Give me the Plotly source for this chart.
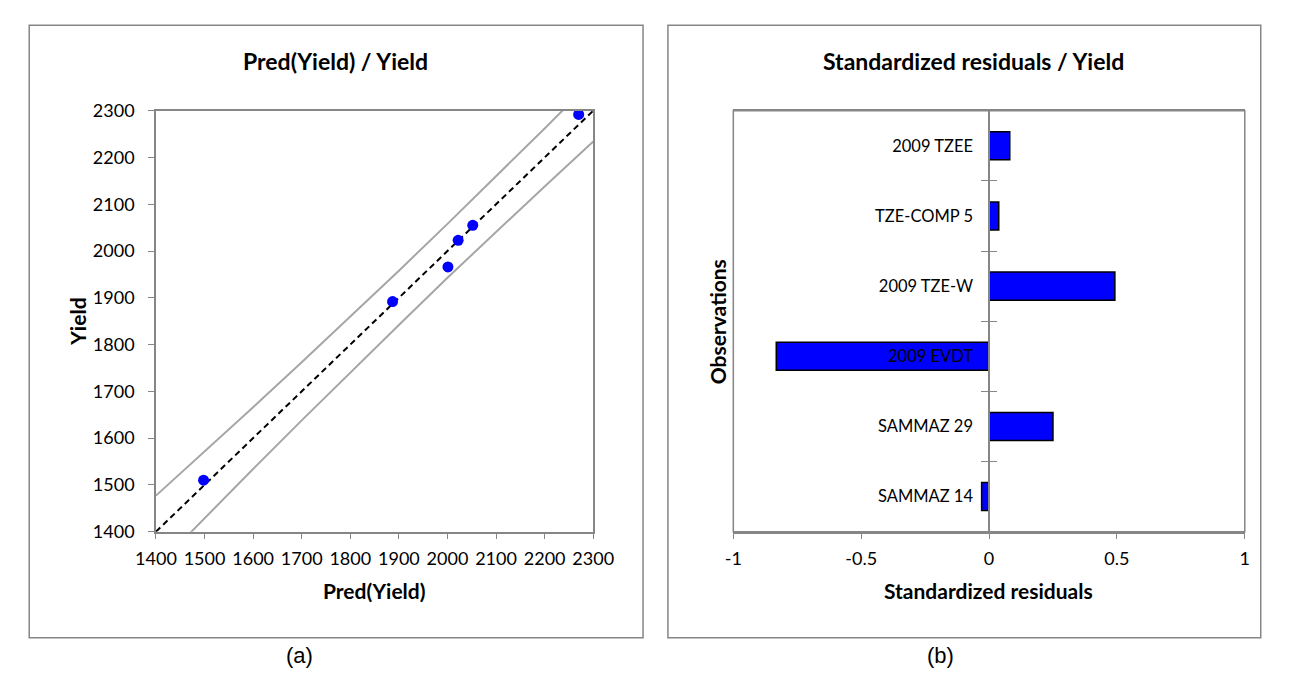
import plotly.graph_objects as go

# ---------------- data ----------------
pred_yield = [1498, 1887, 2001, 2022, 2052, 2270]
yield_obs = [1510, 1892, 1966, 2023, 2055, 2292]

band_x = [1400, 1500, 1600, 1700, 1800, 1900, 2000, 2100, 2200, 2300]
band_upper = [1477, 1571, 1666, 1762, 1859, 1958, 2058, 2159, 2262, 2366]
band_lower = [1323, 1429, 1534, 1638, 1741, 1842, 1943, 2041, 2138, 2234]
diag = [1400, 2300]

left_ticks = [1400, 1500, 1600, 1700, 1800, 1900, 2000, 2100, 2200, 2300]

observations = ["SAMMAZ 14", "SAMMAZ 29", "2009 EVDT", "2009 TZE-W", "TZE-COMP 5", "2009 TZEE"]
std_resid = [-0.029, 0.250, -0.832, 0.492, 0.038, 0.081]
boundary_ticks = [0.5, 1.5, 2.5, 3.5, 4.5]

right_tickvals = [-1, -0.5, 0, 0.5, 1]
right_ticktext = ["-1", "-0.5", "0", "0.5", "1"]

# ---------------- layout helpers ----------------
W, H = 1289, 681
def px(x):
    return x / W
def py(y):
    return 1 - y / H

AX = "#868686"
FONT = "Lato"
tickfont = dict(family=FONT, size=18, color="black")
catfont = dict(family=FONT, size=16.5, color="black")

fig = go.Figure()

# Left panel
fig.add_trace(go.Scatter(x=band_x, y=band_upper, mode="lines",
                         line=dict(color="#A6A6A6", width=2), showlegend=False,
                         xaxis="x", yaxis="y", hoverinfo="skip"))
fig.add_trace(go.Scatter(x=band_x, y=band_lower, mode="lines",
                         line=dict(color="#A6A6A6", width=2), showlegend=False,
                         xaxis="x", yaxis="y", hoverinfo="skip"))
fig.add_trace(go.Scatter(x=diag, y=diag, mode="lines",
                         line=dict(color="black", width=2, dash="6px,4px"), showlegend=False,
                         xaxis="x", yaxis="y", hoverinfo="skip"))
fig.add_trace(go.Scatter(x=pred_yield, y=yield_obs, mode="markers",
                         marker=dict(color="#0000FF", size=11), showlegend=False,
                         xaxis="x", yaxis="y", cliponaxis=False))

# Right panel
fig.add_trace(go.Bar(x=std_resid, y=observations, orientation="h",
                     marker=dict(color="#0000FF", line=dict(color="black", width=1.5)),
                     width=0.4, showlegend=False, xaxis="x2", yaxis="y2"))
fig.add_trace(go.Scatter(x=[], y=[], showlegend=False, xaxis="x2", yaxis="y3"))

dom_y = [py(537), py(102)]
left_dom = [px(139.5), px(591.5)]
right_dom = [px(736.3), px(1265)]
zero_pos = (right_dom[0] + right_dom[1]) / 2

common = dict(showgrid=False, zeroline=False, ticks="outside", ticklen=6,
              tickcolor=AX, tickwidth=1.3, showline=True, linecolor=AX, linewidth=1.5,
              tickfont=tickfont)

fig.update_layout(
    width=W, height=H, autosize=False,
    margin=dict(l=0, r=0, t=0, b=0),
    paper_bgcolor="white", plot_bgcolor="white",
    xaxis=dict(domain=left_dom, range=[1400, 2300], tickvals=left_ticks, anchor="y",
               mirror=True, ticklabelstandoff=4, **common),
    yaxis=dict(domain=dom_y, range=[1400, 2300], tickvals=left_ticks, anchor="x",
               mirror=True, ticklabelstandoff=10, **common),
    xaxis2=dict(domain=right_dom, range=[-1, 1], tickvals=right_tickvals,
                ticktext=right_ticktext, anchor="y2", mirror=True,
                ticklabelstandoff=4, **common),
    yaxis2=dict(domain=dom_y, type="category", categoryorder="array",
                categoryarray=observations, range=[-0.5, 5.5], anchor="free",
                position=zero_pos, showgrid=False, zeroline=False,
                ticks="outside", tickson="boundaries", ticklen=7, tickcolor=AX,
                tickwidth=1.3, showline=True, linecolor=AX, linewidth=1.5,
                tickfont=catfont, ticklabelstandoff=12),
    yaxis3=dict(domain=dom_y, overlaying="y2", range=[-0.5, 5.5], anchor="free",
                position=zero_pos, tickvals=boundary_ticks, ticks="inside",
                ticklen=7, tickcolor=AX, tickwidth=1.3, showticklabels=False,
                showline=False, showgrid=False, zeroline=False),
    bargap=0.6,
)

shapes = [
    dict(type="rect", xref="paper", yref="paper", x0=px(8.5), x1=px(643),
         y0=py(646.7), y1=py(13.7), line=dict(color=AX, width=1.5)),
    dict(type="rect", xref="paper", yref="paper", x0=px(668.7), x1=px(1281.5),
         y0=py(646.7), y1=py(13.7), line=dict(color=AX, width=1.5)),
    dict(type="rect", xref="x2 domain", yref="y2 domain", x0=0, x1=1, y0=0, y1=1,
         line=dict(color=AX, width=1.5), layer="above"),
]
fig.update_layout(shapes=shapes)

title_font = dict(family=FONT, size=23, color="black")
axis_title_font = dict(family=FONT, size=21, color="black")
ann = [
    dict(text="<b>Pred(Yield) / Yield</b>", x=px(325.5), y=py(51), font=title_font),
    dict(text="<b>Standardized residuals / Yield</b>", x=px(985), y=py(51), font=title_font),
    dict(text="<b>Pred(Yield)</b>", x=px(365.5), y=py(598), font=axis_title_font),
    dict(text="<b>Standardized residuals</b>", x=px(1000), y=py(598), font=axis_title_font),
    dict(text="<b>Yield</b>", x=px(59), y=py(320), font=axis_title_font, textangle=-90),
    dict(text="<b>Observations</b>", x=px(720), y=py(320), font=axis_title_font, textangle=-90),
    dict(text="(a)", x=px(288), y=py(665), font=dict(family="Liberation Sans", size=22, color="black")),
    dict(text="(b)", x=px(950), y=py(665), font=dict(family="Liberation Sans", size=22, color="black")),
]
for a in ann:
    a.update(xref="paper", yref="paper", showarrow=False, xanchor="center", yanchor="middle")
fig.update_layout(annotations=ann)

fig.write_html("out.html", config={"responsive": False, "displayModeBar": False},
               post_script="document.body.style.margin='0';document.body.style.overflow='hidden';")
